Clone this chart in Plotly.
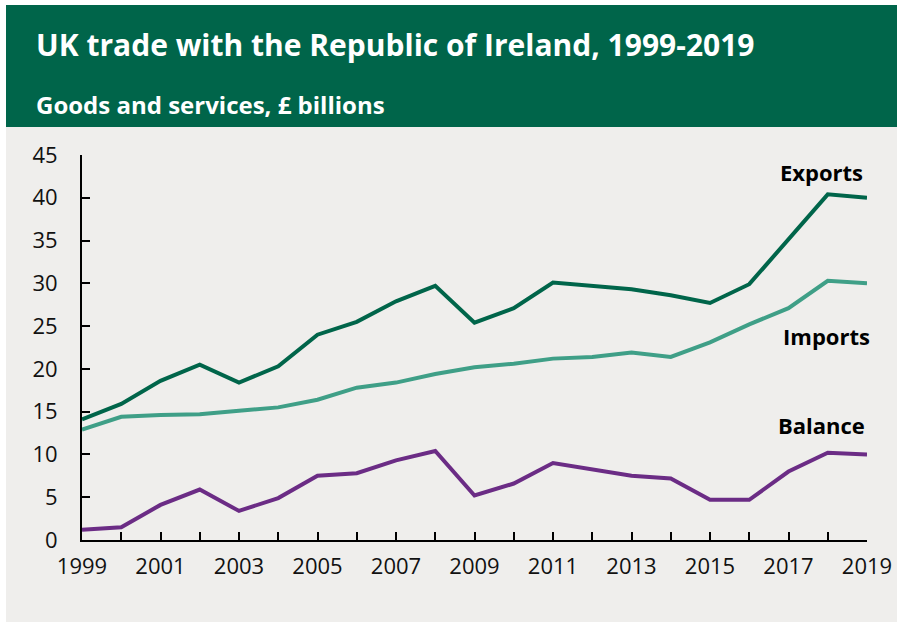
import plotly.graph_objects as go

years = list(range(1999, 2020))
exports = [14.1, 15.9, 18.6, 20.5, 18.4, 20.3, 24.0, 25.5, 27.9, 29.7, 25.4,
           27.1, 30.1, 29.7, 29.3, 28.6, 27.7, 29.9, 35.2, 40.4, 40.0]
imports = [12.9, 14.4, 14.6, 14.7, 15.1, 15.5, 16.4, 17.8, 18.4, 19.4, 20.2,
           20.6, 21.2, 21.4, 21.9, 21.4, 23.1, 25.2, 27.1, 30.3, 30.0]
balance = [1.2, 1.5, 4.1, 5.9, 3.4, 4.9, 7.5, 7.8, 9.3, 10.4, 5.2,
           6.6, 9.0, 8.3, 7.5, 7.2, 4.7, 4.7, 8.0, 10.2, 10.0]
y_ticks = [0, 5, 10, 15, 20, 25, 30, 35, 40, 45]
x_ticktext = [str(y) if (y - 1999) % 2 == 0 else "" for y in years]

DARK_GREEN = "#00654a"
TEAL = "#3f9f87"
PURPLE = "#6b2c85"
PANEL = "#efeeec"
FONT = "Open Sans"

fig = go.Figure()
for vals, color in [(exports, DARK_GREEN), (imports, TEAL), (balance, PURPLE)]:
    fig.add_trace(go.Scatter(x=years, y=vals, mode="lines",
                             line=dict(color=color, width=4),
                             hoverinfo="x+y", showlegend=False))

# Series labels
for text, x, y in [("Exports", 2017.83, 43.0), ("Imports", 2017.97, 23.9),
                   ("Balance", 2017.85, 13.4)]:
    fig.add_annotation(x=x, y=y, xref="x", yref="y", text=f"<b>{text}</b>",
                       showarrow=False, font=dict(family=FONT, size=22, color="#000000"))

# Plot area in pixels
L, T, W, H = 82, 155, 785, 385
FIG_W, FIG_H = 897, 623
def px(xp):
    return (xp - L) / W
def py(yp):
    return (T + H - yp) / H

# Panel colour fills the page; white edges on the left, top and bottom
for x0, x1, y0, y1 in [(-10, 6, -10, FIG_H + 10), (-10, FIG_W + 10, -10, 5),
                       (-10, FIG_W + 10, 622, FIG_H + 10)]:
    fig.add_shape(type="rect", xref="paper", yref="paper", layer="below",
                  x0=px(x0), x1=px(x1), y0=py(y1), y1=py(y0),
                  fillcolor="#ffffff", line=dict(width=0))
# Header band
fig.add_shape(type="rect", xref="paper", yref="paper", layer="below",
              x0=px(6), x1=px(FIG_W + 10), y0=py(127), y1=py(5),
              fillcolor=DARK_GREEN, line=dict(width=0))

fig.add_annotation(xref="paper", yref="paper", x=px(34), y=py(44),
                   xanchor="left", yanchor="middle", showarrow=False,
                   text="<b>UK trade with the Republic of Ireland, 1999-2019</b>",
                   font=dict(family=FONT, size=30, color="#ffffff"))
fig.add_annotation(xref="paper", yref="paper", x=px(34), y=py(105),
                   xanchor="left", yanchor="middle", showarrow=False,
                   text="<b>Goods and services, £ billions</b>",
                   font=dict(family=FONT, size=24, color="#ffffff"))

fig.update_layout(
    width=FIG_W, height=FIG_H, autosize=False,
    margin=dict(l=L, r=FIG_W - L - W, t=T, b=FIG_H - T - H, autoexpand=False),
    paper_bgcolor=PANEL, plot_bgcolor="rgba(0,0,0,0)",
    font=dict(family=FONT, size=21, color="#111111"),
    xaxis=dict(range=[1999, 2019], tickvals=years, ticktext=x_ticktext,
               showgrid=False, zeroline=False, showline=True, linecolor="#000000",
               linewidth=2, ticks="inside", ticklen=8, tickwidth=2, tickcolor="#000000",
               ticklabelstandoff=6, tickfont=dict(size=22), automargin=False),
    yaxis=dict(range=[0, 45], tickvals=y_ticks, showgrid=False, zeroline=False,
               showline=True, linecolor="#000000", linewidth=2, ticks="inside",
               ticklen=8, tickwidth=2, tickcolor="#000000", ticklabelstandoff=18,
               tickfont=dict(size=22), automargin=False),
)

fig.write_html("out.html", config={"responsive": False})
